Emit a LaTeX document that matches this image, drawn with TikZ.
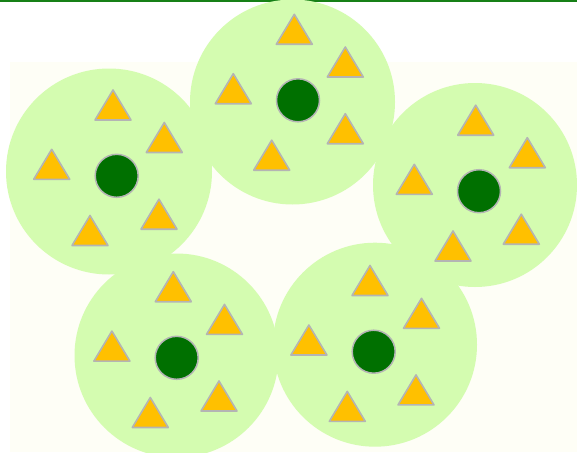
\documentclass[tikz,border=0pt]{standalone}
\begin{document}
\definecolor{bgpale}{RGB}{254,254,246}
\definecolor{topbar}{RGB}{22,128,22}
\definecolor{blob}{RGB}{212,252,176}
\definecolor{core}{RGB}{0,112,0}
\definecolor{edge}{RGB}{180,180,180}
\definecolor{amber}{RGB}{255,192,0}
\begin{tikzpicture}[x=1pt,y=-1pt,
  blobstyle/.style={fill=blob},
  corestyle/.style={fill=core,draw=edge,line width=1.5pt},
  tristyle/.style={fill=amber,draw=edge,line width=1.6pt,line join=round},
  tri/.pic={\path[tristyle] (-18,15) -- (18,15) -- (0,-15) -- cycle;}]
\useasboundingbox (0,0) rectangle (577,452);
\fill[white] (0,0) rectangle (577,452);
\fill[bgpale] (10,62) rectangle (577,452);
\fill[topbar] (0,0) rectangle (577,2.4);
% big circles
\fill[blobstyle] (292.5,102) circle (102.5);
\fill[blobstyle] (109,171.5) circle (103);
\fill[blobstyle] (475,185) circle (102);
\fill[blobstyle] (176.5,355.5) circle (102);
\fill[blobstyle] (375,344.7) circle (102);
% top cluster
\begin{scope}[shift={(298,100.3)}]
  \path[corestyle] (0,0) circle (21.5);
  \pic at (-3.7,-71) {tri}; \pic at (47.3,-38.3) {tri}; \pic at (-64.7,-11.6) {tri};
  \pic at (47.3,28.4) {tri}; \pic at (-26.3,54.9) {tri};
\end{scope}
% left cluster
\begin{scope}[shift={(116.7,175.8)}]
  \path[corestyle] (0,0) circle (21.5);
  \pic at (-3.7,-70.8) {tri}; \pic at (47.6,-38.3) {tri}; \pic at (-65,-11.5) {tri};
  \pic at (42.3,38.4) {tri}; \pic at (-26.7,54.7) {tri};
\end{scope}
% right cluster
\begin{scope}[shift={(479,191.2)}]
  \path[corestyle] (0,0) circle (21.5);
  \pic at (-3.3,-71) {tri}; \pic at (48.3,-38.5) {tri}; \pic at (-64.7,-11.9) {tri};
  \pic at (42.3,38) {tri}; \pic at (-26,54.8) {tri};
\end{scope}
% bottom-left cluster
\begin{scope}[shift={(176.7,357.8)}]
  \path[corestyle] (0,0) circle (21.5);
  \pic at (-3.4,-71.1) {tri}; \pic at (47.8,-38.4) {tri}; \pic at (-64.8,-11.7) {tri};
  \pic at (42.3,38.2) {tri}; \pic at (-26.4,54.7) {tri};
\end{scope}
% bottom-right cluster
\begin{scope}[shift={(373.7,351.7)}]
  \path[corestyle] (0,0) circle (21.5);
  \pic at (-3.7,-71.2) {tri}; \pic at (47.8,-38.4) {tri}; \pic at (-64.8,-11.7) {tri};
  \pic at (42.3,38.2) {tri}; \pic at (-26.4,54.7) {tri};
\end{scope}
\end{tikzpicture}
\end{document}
